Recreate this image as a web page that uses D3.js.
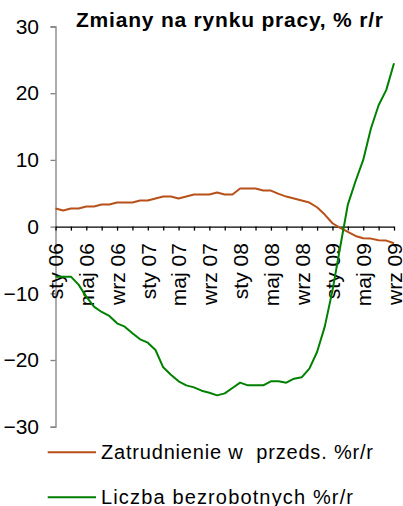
<!DOCTYPE html>
<html><head><meta charset="utf-8">
<script src="https://cdn.jsdelivr.net/npm/d3@7"></script>
<style>body{margin:0;background:#fff}svg{display:block}text{font-family:"Liberation Sans",Arial,sans-serif}</style>
</head><body>
<script>
const monthNames = ["sty","lut","mar","kwi","maj","cze","lip","sie","wrz","paź","lis","gru"];
const categories = [];
for (let y = 6; y <= 9; y++) for (let m = 0; m < 12; m++) { if (y === 9 && m > 8) break; categories.push(monthNames[m] + " 0" + y); }
const zatrudnienie = [2.7,2.4,2.7,2.7,3.0,3.0,3.3,3.3,3.6,3.6,3.6,3.9,3.9,4.2,4.5,4.5,4.2,4.5,4.8,4.8,4.8,5.1,4.8,4.8,5.7,5.7,5.7,5.4,5.4,4.9,4.5,4.2,3.9,3.6,2.9,1.8,0.5,-0.2,-0.8,-1.4,-1.75,-1.8,-2.05,-2.1,-2.5];
const bezrobotni = [-7.5,-7.5,-7.5,-8.7,-10.5,-12.0,-12.8,-13.4,-14.5,-15.0,-16.0,-16.9,-17.4,-18.5,-21.1,-22.2,-23.2,-23.8,-24.1,-24.6,-24.9,-25.3,-25.0,-24.2,-23.4,-23.8,-23.8,-23.8,-23.2,-23.2,-23.4,-22.8,-22.6,-21.3,-18.8,-15.0,-9.6,-3.1,3.3,6.8,10.0,14.7,18.2,20.5,24.5];
const yTicks = [-30,-20,-10,0,10,20,30];
const seriesNames = ["Zatrudnienie w  przeds. %r/r","Liczba bezrobotnych %r/r"];
const colors = ["#B8501A","#008000"];
const title = "Zmiany na rynku pracy, % r/r";

const W = 403, H = 506;
const svg = d3.select("body").append("svg").attr("width", W).attr("height", H);
const x = d3.scalePoint().domain(categories).range([55.5, 394]);
const y = d3.scaleLinear().domain([-30, 30]).range([426.7, 26.5]);
const FONT = "'Liberation Sans',Arial,sans-serif";

// title
svg.append("text").attr("x", 76).attr("y", 27).attr("text-anchor","start")
  .attr("font-weight","bold").attr("font-size", 21).attr("fill","#000")
  .attr("textLength", 307).attr("lengthAdjust","spacing").text(title);

// y axis
const yAxis = svg.append("g").attr("transform","translate(55.5,0)")
  .call(d3.axisLeft(y).tickValues(yTicks).tickSize(5).tickFormat(d3.format("d")));
yAxis.select(".domain").attr("stroke","#808080").attr("stroke-width",1.3);
yAxis.selectAll(".tick line").attr("stroke","#808080").attr("stroke-width",1.3);
yAxis.selectAll(".tick text").attr("font-size",21).attr("fill","#000").attr("x",-16.5)
  .attr("font-family",FONT);

// x axis at zero
const tickCats = categories.filter((d,i)=> i % 2 === 0);
const xAxis = svg.append("g").attr("transform",`translate(0,${y(0)})`)
  .call(d3.axisBottom(x).tickValues(tickCats).tickSize(4).tickSizeOuter(0).tickFormat(d => categories.indexOf(d) % 4 === 0 ? d : ""));
xAxis.select(".domain").attr("stroke","#000").attr("stroke-width",1.3);
xAxis.selectAll(".tick line").attr("stroke","#000").attr("stroke-width",1.3);
xAxis.selectAll(".tick text").attr("font-size",21).attr("fill","#000")
  .attr("font-family",FONT)
  .attr("transform","rotate(-90)").attr("text-anchor","end")
  .attr("x",-16.5).attr("y",0).attr("dy","0.35em");

// lines
const line = d3.line().x((d,i)=>x(categories[i])).y(d=>y(d));
[zatrudnienie, bezrobotni].forEach((s,k)=>{
  svg.append("path").datum(s).attr("d", line).attr("fill","none")
    .attr("stroke", colors[k]).attr("stroke-width", 2).attr("stroke-linejoin","round");
});

// legend
const legY = [452.3, 497.3];
const legLen = [272, 252];
seriesNames.forEach((n,k)=>{
  svg.append("line").attr("x1",47.7).attr("x2",96).attr("y1",legY[k]).attr("y2",legY[k])
    .attr("stroke",colors[k]).attr("stroke-width",2);
  svg.append("text").attr("x",101).attr("y",legY[k]+6.5).attr("font-size",20).attr("fill","#000")
    .attr("textLength", legLen[k]).attr("lengthAdjust","spacing")
    .attr("xml:space","preserve").style("white-space","pre").text(n);
});
</script>
</body></html>
